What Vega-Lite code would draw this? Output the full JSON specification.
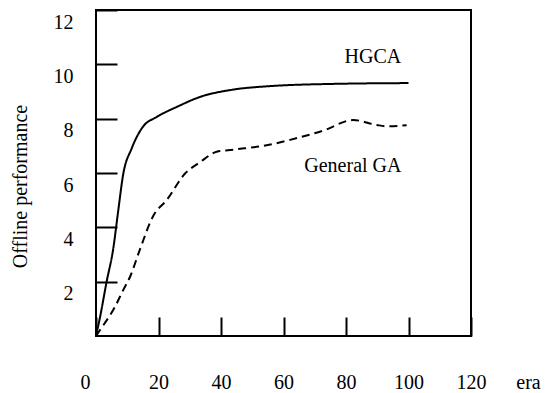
{
  "$schema": "https://vega.github.io/schema/vega-lite/v6.json",
  "width": 375,
  "height": 326,
  "autosize": "none",
  "padding": {"left": 96, "top": 10, "right": 80, "bottom": 57},
  "background": "white",
  "config": {
    "view": {"stroke": "black", "strokeWidth": 2},
    "font": "Times New Roman, Liberation Serif, serif"
  },
  "layer": [
    {
      "data": {"values": [
        {"series": "HGCA", "x": 0, "y": 0},
        {"series": "HGCA", "x": 1.3, "y": 0.7},
        {"series": "HGCA", "x": 3.4, "y": 2.0},
        {"series": "HGCA", "x": 5.5, "y": 3.2},
        {"series": "HGCA", "x": 7.1, "y": 4.6},
        {"series": "HGCA", "x": 8.7, "y": 5.95},
        {"series": "HGCA", "x": 11.4, "y": 6.9},
        {"series": "HGCA", "x": 15, "y": 7.7},
        {"series": "HGCA", "x": 19.4, "y": 8.06},
        {"series": "HGCA", "x": 25.8, "y": 8.43},
        {"series": "HGCA", "x": 33.3, "y": 8.8},
        {"series": "HGCA", "x": 43.9, "y": 9.07},
        {"series": "HGCA", "x": 54.6, "y": 9.19},
        {"series": "HGCA", "x": 75.9, "y": 9.28},
        {"series": "HGCA", "x": 100, "y": 9.31},
        {"series": "General GA", "x": 0, "y": 0},
        {"series": "General GA", "x": 1.3, "y": 0.22},
        {"series": "General GA", "x": 6.1, "y": 1.08},
        {"series": "General GA", "x": 8.7, "y": 1.69},
        {"series": "General GA", "x": 10.9, "y": 2.18},
        {"series": "General GA", "x": 14.1, "y": 3.2},
        {"series": "General GA", "x": 18.3, "y": 4.42},
        {"series": "General GA", "x": 22.6, "y": 5.0},
        {"series": "General GA", "x": 28.5, "y": 5.98},
        {"series": "General GA", "x": 33.3, "y": 6.4},
        {"series": "General GA", "x": 38.6, "y": 6.78},
        {"series": "General GA", "x": 43.9, "y": 6.86},
        {"series": "General GA", "x": 54.6, "y": 7.02},
        {"series": "General GA", "x": 62.1, "y": 7.22},
        {"series": "General GA", "x": 72.7, "y": 7.56},
        {"series": "General GA", "x": 82.3, "y": 7.95},
        {"series": "General GA", "x": 89.8, "y": 7.77},
        {"series": "General GA", "x": 93, "y": 7.72},
        {"series": "General GA", "x": 99.4, "y": 7.76}
      ]},
      "mark": {"type": "line", "color": "black", "strokeWidth": 2, "interpolate": "monotone"},
      "encoding": {
        "x": {
          "field": "x", "type": "quantitative",
          "scale": {"domain": [0, 120], "nice": false},
          "axis": {
            "values": [0, 20, 40, 60, 80, 100, 120],
            "grid": false, "domain": false,
            "tickSize": -19, "tickWidth": 2, "tickColor": "black",
            "labelFontSize": 20, "labelColor": "black", "labelPadding": 55,
            "labelBaseline": "top", "labelFlush": false,
            "labelOffset": {"condition": {"test": "datum.value === 0", "value": -11}, "value": 0},
            "title": "era", "titleFontSize": 20, "titleFontWeight": "normal", "titleColor": "black",
            "titleX": 432, "titleY": 46, "titleBaseline": "middle", "titleAlign": "center"
          }
        },
        "y": {
          "field": "y", "type": "quantitative",
          "scale": {"domain": [0, 12], "nice": false},
          "axis": {
            "values": [2, 4, 6, 8, 10, 12],
            "grid": false, "domain": false,
            "tickSize": -21, "tickWidth": 2, "tickColor": "black",
            "labelFontSize": 20, "labelColor": "black", "labelPadding": 44,
            "labelBaseline": "middle", "labelOffset": 12, "labelFlush": false,
            "title": "Offline performance", "titleFontSize": 20, "titleFontWeight": "normal", "titleColor": "black",
            "titleAngle": -90, "titleX": -76, "titleY": 176, "titleAlign": "center", "titleBaseline": "middle"
          }
        },
        "strokeDash": {
          "field": "series", "type": "nominal",
          "scale": {"domain": ["HGCA", "General GA"], "range": [[1, 0], [8, 5]]},
          "legend": null
        }
      }
    },
    {
      "data": {"values": [
        {"label": "HGCA", "x": 88.6, "y": 10.27},
        {"label": "General GA", "x": 82.2, "y": 6.26}
      ]},
      "mark": {"type": "text", "fontSize": 20, "color": "black", "baseline": "middle", "align": "center"},
      "encoding": {
        "x": {"field": "x", "type": "quantitative"},
        "y": {"field": "y", "type": "quantitative"},
        "text": {"field": "label"}
      }
    }
  ]
}
